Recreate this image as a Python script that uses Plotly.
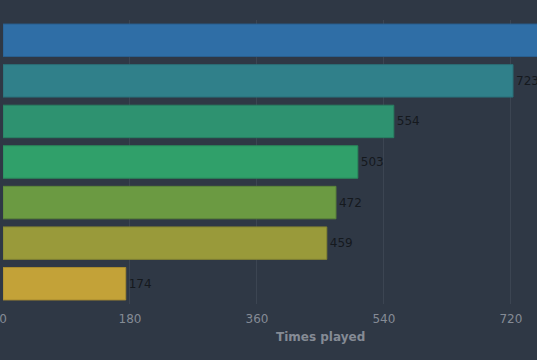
import plotly.graph_objects as go

categories = ["Track A", "Track B", "Track C", "Track D", "Track E", "Track F", "Track G"]
times_played = [905, 723, 554, 503, 472, 459, 174]
bar_colors = ["#2f6ea6", "#30808a", "#2e9270", "#30a06a", "#6b9a42", "#999a3a", "#c3a238"]
border_colors = ["#295f8f", "#2a6f77", "#287f62", "#2a8a5c", "#5c853a", "#848532", "#a88c30"]
tick_values = [0, 180, 360, 540, 720]
axis_title = "Times played"

fig = go.Figure(go.Bar(
    x=times_played,
    y=categories,
    orientation="h",
    marker=dict(color=bar_colors, line=dict(color=border_colors, width=1)),
    text=times_played,
    textposition="outside",
    textfont=dict(color="#15191e", size=12, family="DejaVu Sans"),
    cliponaxis=True,
))

fig.update_layout(
    width=537, height=360,
    margin=dict(l=3, r=0, t=20, b=56),
    paper_bgcolor="#2f3845",
    plot_bgcolor="#2f3845",
    bargap=0.2,
    showlegend=False,
    font=dict(family="DejaVu Sans", color="#8a9099", size=12),
    xaxis=dict(
        range=[0, 757],
        tickvals=tick_values,
        gridcolor="#3c4552",
        gridwidth=1,
        zeroline=False,
        showline=False,
        ticklabeloverflow="allow",
        ticklabelstandoff=6,
        tickfont=dict(size=12, color="#858b95"),
    ),
    yaxis=dict(
        autorange="reversed",
        showticklabels=False,
        showgrid=False,
        zeroline=False,
    ),
    annotations=[dict(
        text="<b>" + axis_title + "</b>",
        xref="paper", yref="paper",
        x=0.594, y=-0.116,
        xanchor="center", yanchor="middle",
        showarrow=False,
        font=dict(size=12, color="#858b95", family="DejaVu Sans"),
    )],
)

fig.write_html(
    "out.html",
    config={"displayModeBar": False},
    post_script="document.body.style.margin='0';document.body.style.overflow='hidden';",
)
